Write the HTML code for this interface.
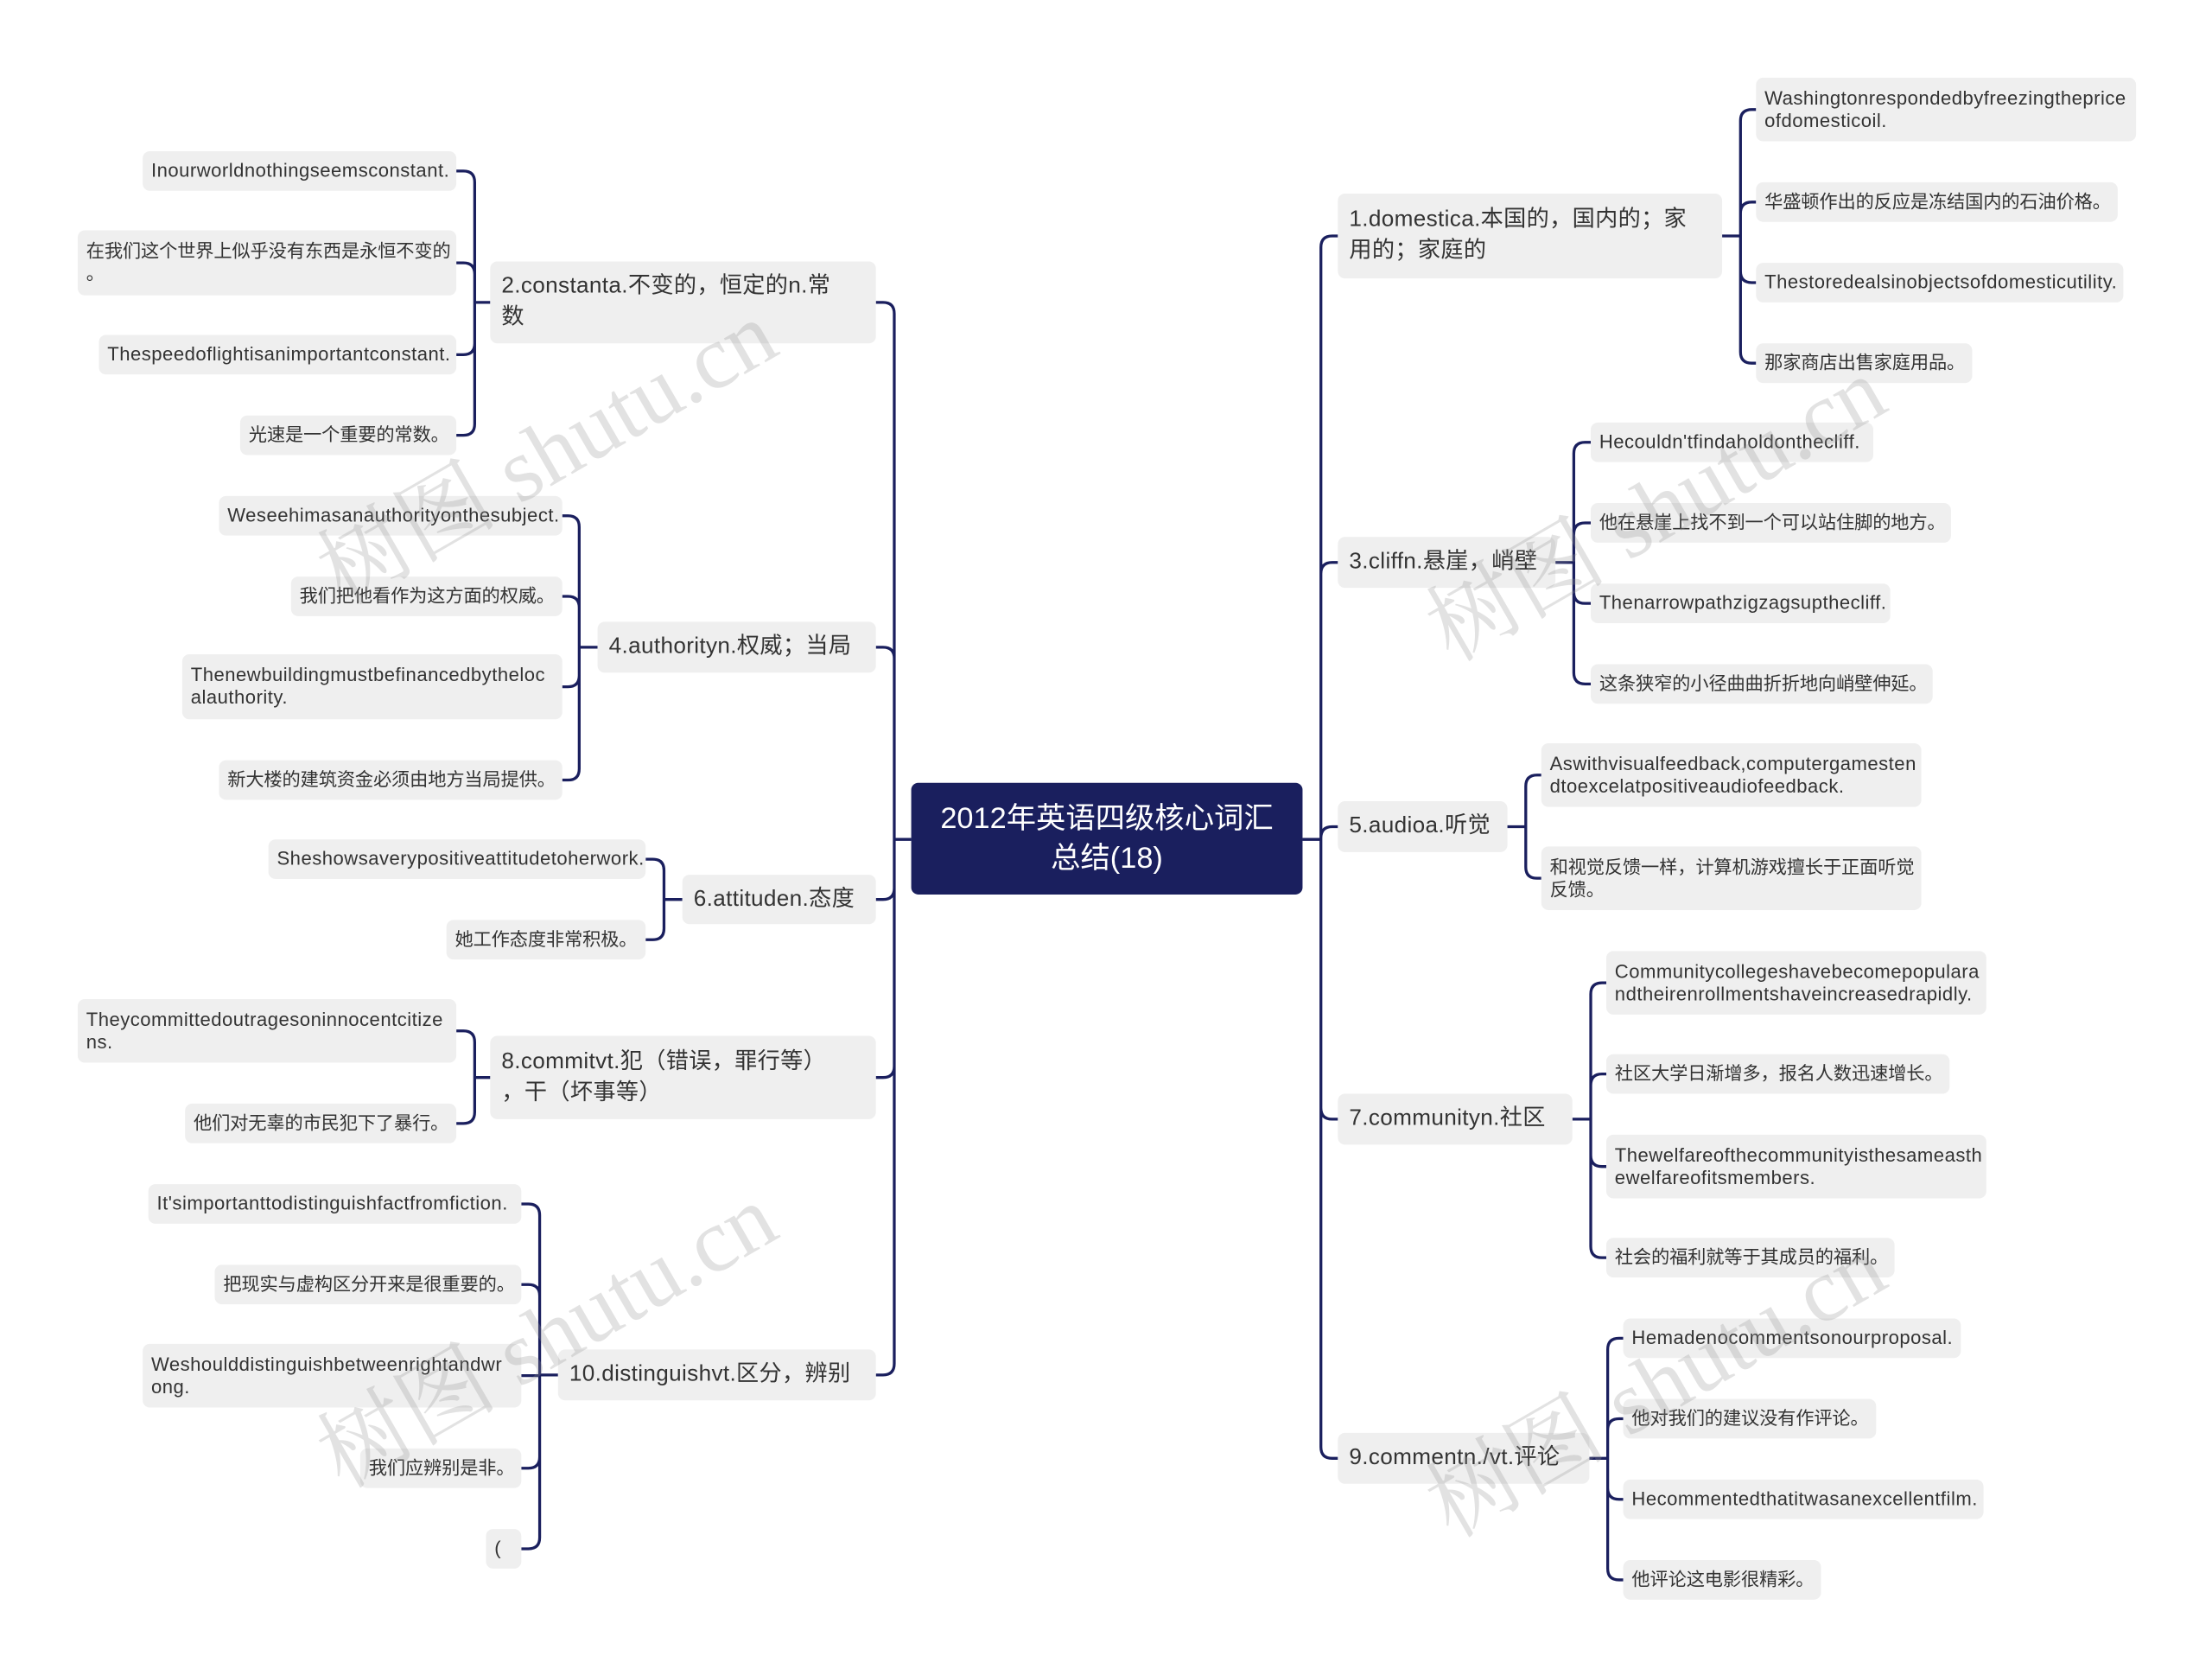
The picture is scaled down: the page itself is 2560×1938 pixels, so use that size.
<!DOCTYPE html>
<html><head><meta charset="utf-8">
<style>
html,body{margin:0;padding:0;background:#fff;}
#wrap{width:2560px;height:1938px;overflow:hidden;position:relative;background:#fff;}
#s{position:absolute;left:0;top:0;width:1570px;height:1190px;transform:scale(1.635);transform-origin:0 0;}
.n{position:absolute;box-sizing:border-box;background:#efefef;border-radius:5px;color:#333;font-family:"Liberation Sans","Noto Sans CJK SC",sans-serif;white-space:nowrap;display:flex;flex-direction:column;justify-content:center;}
.l{font-size:13px;line-height:16px;padding:0 6px;letter-spacing:-0.1px;}
.l .e{font-size:13.5px;letter-spacing:0.3px;}
.m{font-size:16px;line-height:22px;padding:0 8px;letter-spacing:0.2px;}
.r{background:#1a1f5e;color:#fff;font-size:21px;line-height:28px;text-align:center;align-items:center;}
.w{position:absolute;font-family:"Liberation Serif","Noto Serif CJK SC",serif;font-size:64px;color:rgba(150,150,150,0.28);transform:rotate(-30deg);white-space:nowrap;}
svg{position:absolute;left:0;top:0;}
</style></head><body>
<div id="wrap"><div id="s">
<svg id="g" width="1570" height="1190"></svg>
</div></div>
<script>
var S=document.getElementById('s'),G=document.getElementById('g');
function box(x1,y1,x2,y2,lines,cls){var d=document.createElement('div');d.className='n '+cls;d.style.left=x1+'px';d.style.top=y1+'px';d.style.width=(x2-x1)+'px';d.style.height=(y2-y1)+'px';lines.forEach(function(t){var s=document.createElement('div');s.textContent=t;if(!/[\u3000-\u9fff\uff00-\uffef]/.test(t))s.className='e';d.appendChild(s);});S.appendChild(d);}
var P='';
function conn(px,py,bx,ch,dir){var r=8;P+='M'+px+' '+py+'H'+bx;ch.forEach(function(c){var cx=c[0],cy=c[1];if(Math.abs(cy-py)<r){P+='M'+bx+' '+py+'V'+cy+'H'+cx;}else{var s=cy>py?1:-1;P+='M'+bx+' '+py+'V'+(cy-s*r)+'Q'+bx+' '+cy+' '+(bx+dir*r)+' '+cy+'H'+cx;}});}
box(645,554,922,633,['2012年英语四级核心词汇','总结(18)'],'r');
var L=[
 [347,185,620,243,['2.constanta.不变的，恒定的n.常','数'],336,[
  [101,107,323,135,['Inourworldnothingseemsconstant.']],
  [55,163,323,209,['在我们这个世界上似乎没有东西是永恒不变的','。']],
  [70,237,323,265,['Thespeedoflightisanimportantconstant.']],
  [170,294,323,322,['光速是一个重要的常数。']]]],
 [423,440,620,476,['4.authorityn.权威；当局'],410,[
  [155,351,398,379,['Weseehimasanauthorityonthesubject.']],
  [206,408,398,436,['我们把他看作为这方面的权威。']],
  [129,463,398,509,['Thenewbuildingmustbefinancedbytheloc','alauthority.']],
  [155,538,398,566,['新大楼的建筑资金必须由地方当局提供。']]]],
 [483,619,620,654,['6.attituden.态度'],470,[
  [190,594,457,622,['Sheshowsaverypositiveattitudetoherwork.']],
  [316,651,457,679,['她工作态度非常积极。']]]],
 [347,733,620,792,['8.commitvt.犯（错误，罪行等）','，干（坏事等）'],336,[
  [55,707,323,752,['Theycommittedoutragesoninnocentcitize','ns.']],
  [131,781,323,809,['他们对无辜的市民犯下了暴行。']]]],
 [395,955,620,991,['10.distinguishvt.区分，辨别'],382,[
  [105,838,369,866,["It'simportanttodistinguishfactfromfiction."]],
  [152,895,369,923,['把现实与虚构区分开来是很重要的。']],
  [101,951,369,996,['Weshoulddistinguishbetweenrightandwr','ong.']],
  [255,1025,369,1053,['我们应辨别是非。']],
  [344,1082,369,1110,['(']]]]
];
var R=[
 [947,137,1219,197,['1.domestica.本国的，国内的；家','用的；家庭的'],1232,[
  [1243,55,1512,100,['Washingtonrespondedbyfreezingtheprice','ofdomesticoil.']],
  [1243,129,1499,157,['华盛顿作出的反应是冻结国内的石油价格。']],
  [1243,186,1503,214,['Thestoredealsinobjectsofdomesticutility.']],
  [1243,243,1396,271,['那家商店出售家庭用品。']]]],
 [947,380,1101,416,['3.cliffn.悬崖，峭壁'],1114,[
  [1126,299,1326,327,["Hecouldn'tfindaholdonthecliff."]],
  [1126,356,1381,384,['他在悬崖上找不到一个可以站住脚的地方。']],
  [1126,413,1338,441,['Thenarrowpathzigzagsupthecliff.']],
  [1126,470,1368,498,['这条狭窄的小径曲曲折折地向峭壁伸延。']]]],
 [947,567,1067,603,['5.audioa.听觉'],1080,[
  [1091,526,1360,571,['Aswithvisualfeedback,computergamesten','dtoexcelatpositiveaudiofeedback.']],
  [1091,599,1360,644,['和视觉反馈一样，计算机游戏擅长于正面听觉','反馈。']]]],
 [947,774,1113,810,['7.communityn.社区'],1126,[
  [1137,673,1406,718,['Communitycollegeshavebecomepopulara','ndtheirenrollmentshaveincreasedrapidly.']],
  [1137,746,1380,774,['社区大学日渐增多，报名人数迅速增长。']],
  [1137,803,1406,848,['Thewelfareofthecommunityisthesameasth','ewelfareofitsmembers.']],
  [1137,876,1341,904,['社会的福利就等于其成员的福利。']]]],
 [947,1014,1125,1050,['9.commentn./vt.评论'],1138,[
  [1149,933,1388,961,['Hemadenocommentsonourproposal.']],
  [1149,990,1328,1018,['他对我们的建议没有作评论。']],
  [1149,1047,1404,1075,['Hecommentedthatitwasanexcellentfilm.']],
  [1149,1104,1289,1132,['他评论这电影很精彩。']]]]
];
var cy=function(n){return (n[1]+n[3])/2;};
conn(645,594,633,L.map(function(n){return [n[2],cy(n)];}),-1);
conn(922,594,935,R.map(function(n){return [n[0],cy(n)];}),1);
L.forEach(function(n){box(n[0],n[1],n[2],n[3],n[4],'m');conn(n[0],cy(n),n[5],n[6].map(function(c){return [c[2],cy(c)];}),-1);n[6].forEach(function(c){box(c[0],c[1],c[2],c[3],c[4],'l');});});
R.forEach(function(n){box(n[0],n[1],n[2],n[3],n[4],'m');conn(n[2],cy(n),n[5],n[6].map(function(c){return [c[0],cy(c)];}),1);n[6].forEach(function(c){box(c[0],c[1],c[2],c[3],c[4],'l');});});
G.innerHTML='<path d="'+P+'" fill="none" stroke="#1a1f5e" stroke-width="2"/>';
[[205,270],[990,310],[205,895],[990,930]].forEach(function(p){var d=document.createElement('div');d.className='w';d.style.left=p[0]+'px';d.style.top=p[1]+'px';d.textContent='树图 shutu.cn';S.appendChild(d);});
</script>
</body></html>
